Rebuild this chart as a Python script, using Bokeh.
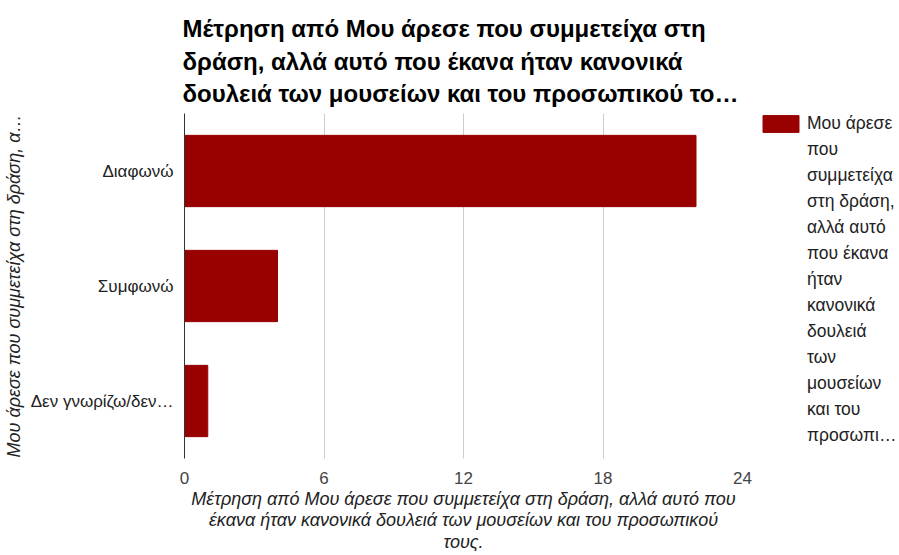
from bokeh.plotting import figure
from bokeh.layouts import row
from bokeh.models import (Range1d, FactorRange, Legend, LegendItem, FixedTicker,
                          ColumnDataSource)
from bokeh.embed import file_html
from bokeh.resources import INLINE

title_lines = [
    "Μέτρηση από Μου άρεσε που συμμετείχα στη",
    "δράση, αλλά αυτό που έκανα ήταν κανονικά",
    "δουλειά των μουσείων και του προσωπικού το…",
]
categories = ["Διαφωνώ", "Συμφωνώ", "Δεν γνωρίζω/δεν…"]
counts = [22, 4, 1]
x_ticks = [0, 6, 12, 18, 24]
y_axis_label = "Μου άρεσε που συμμετείχα στη δράση, α…"
x_axis_label_lines = [
    "Μέτρηση από Μου άρεσε που συμμετείχα στη δράση, αλλά αυτό που",
    "έκανα ήταν κανονικά δουλειά των μουσείων και του προσωπικού",
    "τους.",
]
legend_lines = [
    "Μου άρεσε", "που", "συμμετείχα", "στη δράση,", "αλλά αυτό", "που έκανα",
    "ήταν", "κανονικά", "δουλειά", "των", "μουσείων", "και του", "προσωπι…",
]

FONT = "Liberation Sans"
BAR = "#990000"

p = figure(
    width=758, height=555,
    x_range=Range1d(0, 24),
    y_range=FactorRange(*reversed(categories)),
    output_backend="svg", toolbar_location=None,
    min_border_left=183, min_border_right=16,
    min_border_top=113, min_border_bottom=97,
)
p.outline_line_color = None

src = ColumnDataSource(dict(cat=categories, n=counts))
p.hbar(y="cat", right="n", left=0, height=0.62, source=src,
       fill_color=BAR, line_color=BAR)

# title
p.title.text = "\n".join(title_lines)
p.title.text_font = FONT
p.title.text_font_size = "24px"
p.title.text_font_style = "bold"
p.title.text_color = "#000000"
p.title.text_line_height = 1.2
p.title.align = "left"
p.title.offset = -2
p.title.standoff = 13

# x axis
xa = p.xaxis[0]
xa.ticker = FixedTicker(ticks=x_ticks)
xa.axis_line_color = None
xa.major_tick_line_color = None
xa.minor_tick_line_color = None
xa.major_label_text_font = FONT
xa.major_label_text_font_size = "17px"
xa.major_label_text_color = "#444444"
xa.major_label_standoff = 7
xa.axis_label = "\n".join(x_axis_label_lines)
xa.axis_label_text_font = FONT
xa.axis_label_text_font_size = "18px"
xa.axis_label_text_font_style = "italic"
xa.axis_label_text_color = "#222222"
xa.axis_label_text_line_height = 1.09
xa.axis_label_standoff = 2

# y axis
ya = p.yaxis[0]
ya.axis_line_color = "#333333"
ya.major_tick_line_color = None
ya.minor_tick_line_color = None
ya.major_label_text_font = FONT
ya.major_label_text_font_size = "17px"
ya.major_label_text_color = "#222222"
ya.major_label_standoff = 5
ya.axis_label = y_axis_label
ya.axis_label_text_font = FONT
ya.axis_label_text_font_size = "18px"
ya.axis_label_text_font_style = "italic"
ya.axis_label_text_color = "#222222"
ya.axis_label_standoff = 4

p.xgrid.ticker = FixedTicker(ticks=x_ticks)
p.xgrid.grid_line_color = "#cccccc"
p.ygrid.grid_line_color = None

# legend panel, to the right of the plot
lp = figure(
    width=141, height=555,
    x_range=Range1d(0, 1), y_range=Range1d(0, 1),
    x_axis_location=None, y_axis_location=None,
    output_backend="svg", toolbar_location=None,
    min_border_left=0, min_border_right=0,
    min_border_top=109, min_border_bottom=0,
)
lp.outline_line_color = None
lp.grid.visible = False
# hidden renderers that only provide the legend swatches
key = lp.hbar(y="n", right="n", left=0, height=0.5, source=src,
              fill_color=BAR, line_color=BAR, visible=False)
blank = lp.hbar(y="n", right="n", left=0, height=0.5, source=src,
                fill_alpha=0, line_alpha=0, visible=False)

items = [LegendItem(label=legend_lines[0], renderers=[key])]
items += [LegendItem(label=t, renderers=[blank]) for t in legend_lines[1:]]
legend = Legend(
    items=items, location="top_left", click_policy="none",
    glyph_width=45, glyph_height=21, label_height=21, spacing=5,
    label_standoff=4, padding=0, margin=0,
    border_line_color=None, background_fill_alpha=0,
    label_text_font=FONT, label_text_font_size="17.5px", label_text_color="#222222",
)
lp.add_layout(legend)

layout = row(p, lp)
open("out.html", "w").write(file_html(layout, INLINE))
